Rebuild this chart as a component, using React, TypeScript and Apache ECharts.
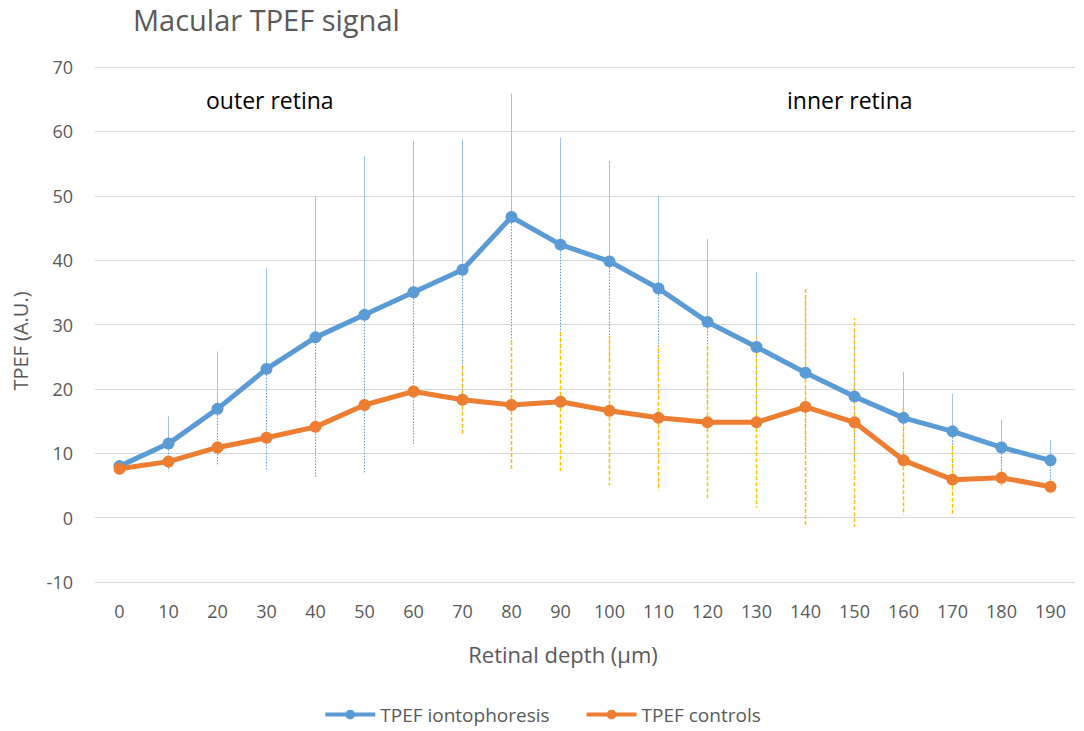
import React, { useEffect, useRef } from "react";
import * as echarts from "echarts";

const depths = ["0","10","20","30","40","50","60","70","80","90","100","110","120","130","140","150","160","170","180","190"];
const iontoValues = [8, 11.5, 16.9, 23.1, 28, 31.5, 35, 38.5, 46.7, 42.4, 39.8, 35.6, 30.4, 26.5, 22.5, 18.8, 15.5, 13.4, 10.9, 8.9];
const iontoErrors = [0.5, 4.3, 8.9, 15.6, 21.8, 24.7, 23.5, 20.3, 19.2, 16.6, 15.6, 14.4, 12.9, 11.7, 12, 10, 7.1, 5.8, 4.3, 3.2];
const controlValues = [7.6, 8.7, 10.9, 12.4, 14.1, 17.5, 19.6, 18.3, 17.5, 18, 16.6, 15.5, 14.8, 14.8, 17.2, 14.8, 8.9, 5.9, 6.2, 4.8];
const controlErrors = [0.5, 1, 1, 1, 1, 1, 1, 5.6, 10, 10.8, 11.6, 11.3, 12, 13.3, 18.3, 16.2, 8.5, 5.6, 1.2, 1];
const yTicks = { min: -10, max: 70, interval: 10 };

const FONT = "'Open Sans', sans-serif";

function errorSeries(name: string, values: number[], errors: number[], upColor: string, upDash: any, loColor: string, loDash: any, width: number, z: number) {
  return {
    type: "custom",
    name: name,
    z: z,
    silent: true,
    data: values.map((v, i) => [i, v, errors[i]]),
    encode: { x: 0, y: 1 },
    renderItem: (params: any, api: any) => {
      const idx = api.value(0);
      const v = api.value(1);
      const e = api.value(2);
      const pMid = api.coord([idx, v]);
      const pHi = api.coord([idx, v + e]);
      const pLo = api.coord([idx, v - e]);
      return {
        type: "group",
        children: [
          {
            type: "line",
            shape: { x1: pMid[0], y1: pMid[1], x2: pHi[0], y2: pHi[1] },
            style: { stroke: upColor, lineWidth: width, lineDash: upDash },
          },
          {
            type: "line",
            shape: { x1: pMid[0], y1: pMid[1], x2: pLo[0], y2: pLo[1] },
            style: { stroke: loColor, lineWidth: width, lineDash: loDash },
          },
        ],
      };
    },
  };
}

export default function App() {
  const ref = useRef<HTMLDivElement>(null);
  useEffect(() => {
    if (!ref.current) return;
    const chart = echarts.init(ref.current, null, { renderer: "svg" });
    chart.setOption({
      animation: false,
      backgroundColor: "#ffffff",
      title: {
        text: "Macular TPEF signal",
        left: 128,
        top: 0,
        textStyle: { fontFamily: FONT, fontSize: 29, fontWeight: "normal", color: "#595959" },
      },
      grid: { left: 95, right: 9, top: 67, bottom: 149, containLabel: false },
      legend: {
        top: 700,
        left: "center",
        itemWidth: 50,
        itemHeight: 12,
        itemGap: 35,
        data: ["TPEF iontophoresis", "TPEF controls"],
        lineStyle: { width: 4 },
        textStyle: { fontFamily: FONT, fontSize: 19, color: "#595959" },
      },
      xAxis: {
        type: "category",
        data: depths,
        boundaryGap: true,
        name: "Retinal depth (µm)",
        nameLocation: "middle",
        nameGap: 61,
        nameTextStyle: { fontFamily: FONT, fontSize: 22, color: "#595959", padding: [0, 44, 0, 0] },
        axisLine: { show: false },
        axisTick: { show: false },
        axisLabel: { fontFamily: FONT, fontSize: 18, color: "#595959", margin: 20 },
      },
      yAxis: {
        type: "value",
        min: yTicks.min,
        max: yTicks.max,
        interval: yTicks.interval,
        axisLine: { show: false },
        axisTick: { show: false },
        axisLabel: { fontFamily: FONT, fontSize: 18, color: "#595959", margin: 22 },
        splitLine: { lineStyle: { color: "#d9d9d9", width: 1 } },
      },
      graphic: [
        {
          type: "text",
          x: 20,
          y: 341,
          rotation: Math.PI / 2,
          style: {
            text: "TPEF (A.U.)",
            fontFamily: FONT,
            fontSize: 20,
            fill: "#595959",
            align: "center",
            verticalAlign: "middle",
          },
        },
        {
          type: "text",
          x: 206,
          y: 100,
          style: { text: "outer retina", fontFamily: FONT, fontSize: 23, fill: "#000000", verticalAlign: "middle" },
        },
        {
          type: "text",
          x: 787,
          y: 100,
          style: { text: "inner retina", fontFamily: FONT, fontSize: 23, fill: "#000000", verticalAlign: "middle" },
        },
      ],
      series: [
        errorSeries("iontoErr", iontoValues, iontoErrors, "#9DC3E6", null, "#5B9BD5", [1.5, 1.5], 1, 1),
        errorSeries("controlErr", controlValues, controlErrors, "#FFC000", [4, 2], "#FFC000", [4, 2], 1.5, 2),
        {
          type: "line",
          name: "TPEF iontophoresis",
          data: iontoValues,
          z: 3,
          symbol: "circle",
          symbolSize: 12,
          lineStyle: { color: "#5B9BD5", width: 5 },
          itemStyle: { color: "#5B9BD5" },
        },
        {
          type: "line",
          name: "TPEF controls",
          data: controlValues,
          z: 4,
          symbol: "circle",
          symbolSize: 12,
          lineStyle: { color: "#ED7D31", width: 5 },
          itemStyle: { color: "#ED7D31" },
        },
      ],
    });
    return () => chart.dispose();
  }, []);
  return <div ref={ref} style={{ position: "absolute", left: 0, top: 0, width: 1084, height: 731 }} />;
}
